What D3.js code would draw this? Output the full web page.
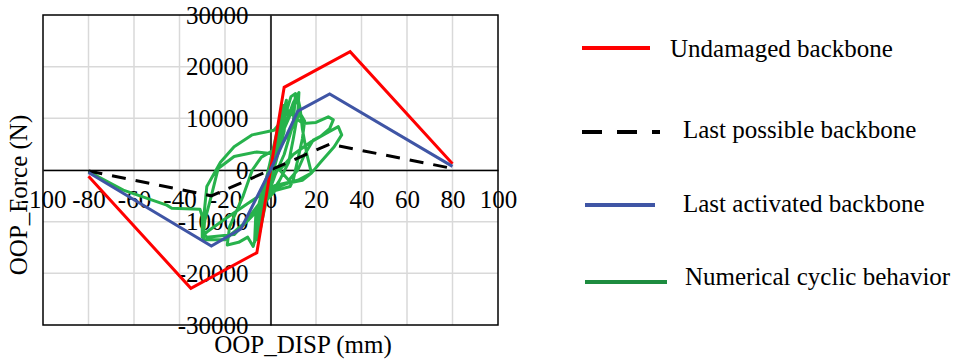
<!DOCTYPE html>
<html>
<head>
<meta charset="utf-8">
<script src="https://cdn.jsdelivr.net/npm/d3@7"></script>
<style>
    body { margin: 0; background: #fff; }
    text { font-family: "Liberation Serif", "Times New Roman", serif; fill: #000; }
</style>
</head>
<body>
<div id="chart"></div>
<script>
// tick values
var xTicks = [-100, -80, -60, -40, -20, 0, 20, 40, 60, 80, 100];
var yTicks = [-30000, -20000, -10000, 0, 10000, 20000, 30000];

// backbones [disp mm, force N]
var undamaged = [[-80, -1200], [-35, -22900], [-6, -16000], [0, 0], [6, 16000], [35, 22900], [80, 1200]];
var lastPossible = [[-80, -200], [-26, -5000], [0, 0], [26, 5000], [80, 300]];
var lastActivated = [[-80, -500], [-26, -14700], [-13, -11400], [0, 0], [12, 11400], [26, 14700], [80, 700]];

// numerical cyclic response
var cyclic = [
    [0, 0], [1.5, 3500], [0.5, 500], [-1.5, -3500], [-0.5, -500],
    [2.5, 6000], [1.5, 1500], [-2.5, -6000], [-1.5, -1500],
    [4, 9500], [3, 4000], [-4, -9500], [-3, -4000],
    [5.5, 12500], [4.5, 6000], [1, 0], [-5, -12500], [-4, -6500], [-1, 0],
    [7, 13500], [6, 7500], [2, 1000], [-6, -13500], [-5, -8000], [-1.5, -1000],
    [9, 14200], [11, 14800], [10, 9000], [6, 3000], [2, -1000], [-3, -7000], [-7, -14000], [-6.5, -9000], [-3, -3000], [2, 3000],
    [10, 13000], [12.5, 15000], [12, 11000], [10, 6000], [8, 1500], [4, -2000], [-2, -6000], [-7.6, -14800],
    [-10, -13000], [-14, -14000], [-19, -14500], [-18, -11000], [-12, -5000], [-8, 0], [-4, 2500], [2, 4000], [8, 10000], [12, 14000],
    [13, 12000], [14, 8000], [16, 3000], [18, -600], [14, -2000], [8, -2500], [2, -3500], [-4, -6000], [-12, -10500], [-20, -13500], [-29.5, -13500],
    [-29, -10000], [-26, -5000], [-23, 300], [-16, 2600], [-6, 3500], [0, 3200], [5, 5000], [10, 8500], [13, 11000],
    [15, 9500], [14, 6000], [12, 2000], [10, -1900], [8.6, -3200], [2, -4000], [-6, -8000], [-16, -12500], [-28, -13000], [-30, -12000],
    [-28, -3200], [-22, 1500], [-16, 4500], [-8, 6800], [1.5, 7700], [5, 9500], [8, 11500],
    [11, 10000], [14.4, 9000], [20, 9200], [25.4, 10300], [27.6, 9700], [26, 8000], [22, 6500], [18.8, 5800], [15, 3000], [12, 0], [8, -2000],
    [4, 0], [10, 3000], [18, 5500], [24, 7000], [29.8, 8400], [31.3, 6800], [28, 4500], [22, 1500], [18, -600], [12, -2000], [2, -3000],
    [-10, -6500], [-20, -9500], [-28, -12000], [-30, -13000], [-30, -9000],
    [-31, -7600], [-43.4, -7400], [-45.6, -6800], [-64.7, -3900], [-80, -300]
];

var legendNames = ["Undamaged backbone", "Last possible backbone", "Last activated backbone", "Numerical cyclic behavior"];

var W = 964, H = 362;
var fontSize = 25;

var svg = d3.select("#chart").append("svg")
    .attr("width", W)
    .attr("height", H);

svg.append("rect").attr("width", W).attr("height", H).attr("fill", "#fff");

var x = d3.scaleLinear().domain([-100, 100]).range([43, 498]);
var y = d3.scaleLinear().domain([-30000, 30000]).range([325, 15]);

//---------------------------- grid ----------------------------
svg.append("g")
    .selectAll("line")
    .data(xTicks.slice(1, -1)).enter()
    .append("line")
    .attr("x1", function (d) { return x(d); })
    .attr("x2", function (d) { return x(d); })
    .attr("y1", y(30000))
    .attr("y2", y(-30000))
    .attr("stroke", "#d9d9d9")
    .attr("stroke-width", 1.5);

svg.append("g")
    .selectAll("line")
    .data(yTicks.slice(1, -1)).enter()
    .append("line")
    .attr("x1", x(-100))
    .attr("x2", x(100))
    .attr("y1", function (d) { return y(d); })
    .attr("y2", function (d) { return y(d); })
    .attr("stroke", "#d9d9d9")
    .attr("stroke-width", 1.5);

// plot border
svg.append("rect")
    .attr("x", x(-100))
    .attr("y", y(30000))
    .attr("width", x(100) - x(-100))
    .attr("height", y(-30000) - y(30000))
    .attr("fill", "none")
    .attr("stroke", "#000")
    .attr("stroke-width", 1.5);

//---------------------------- axes through origin ----------------------------
var xAxis = svg.append("g")
    .attr("transform", "translate(0," + y(0) + ")")
    .call(d3.axisBottom(x).tickValues(xTicks).tickSize(0).tickPadding(20).tickFormat(d3.format("d")));
var yAxis = svg.append("g")
    .attr("transform", "translate(" + x(0) + ",0)")
    .call(d3.axisLeft(y).tickValues(yTicks).tickSize(0).tickPadding(22).tickFormat(d3.format("d")));

[xAxis, yAxis].forEach(function (a) {
    a.select(".domain").attr("stroke", "#000").attr("stroke-width", 1.5);
    a.selectAll("text")
        .style("font-family", "'Liberation Serif', 'Times New Roman', serif")
        .style("font-size", fontSize + "px")
        .attr("fill", "#000");
});
// plain hyphen like the source
xAxis.selectAll("text").text(function (d) { return String(d); });
yAxis.selectAll("text").text(function (d) { return String(d); });

//---------------------------- series ----------------------------
var line = d3.line()
    .x(function (d) { return x(d[0]); })
    .y(function (d) { return y(d[1]); });

svg.append("path").datum(cyclic)
    .attr("d", line)
    .attr("fill", "none")
    .attr("stroke", "#27b24c")
    .attr("stroke-width", 3)
    .attr("stroke-linejoin", "round");

svg.append("path").datum(undamaged)
    .attr("d", line)
    .attr("fill", "none")
    .attr("stroke", "#ff0000")
    .attr("stroke-width", 3);

svg.append("path").datum(lastPossible)
    .attr("d", line)
    .attr("fill", "none")
    .attr("stroke", "#000")
    .attr("stroke-width", 3)
    .attr("stroke-dasharray", "14,10");

svg.append("path").datum(lastActivated)
    .attr("d", line)
    .attr("fill", "none")
    .attr("stroke", "#3f55a5")
    .attr("stroke-width", 3);

//---------------------------- axis titles ----------------------------
svg.append("text")
    .attr("transform", "translate(27,195) rotate(-90)")
    .attr("text-anchor", "middle")
    .style("font-size", fontSize + "px")
    .text("OOP_Force (N)");

svg.append("text")
    .attr("x", 303)
    .attr("y", 353)
    .attr("text-anchor", "middle")
    .style("font-size", fontSize + "px")
    .text("OOP_DISP (mm)");

//---------------------------- legend ----------------------------
var legend = [
    { name: legendNames[0], color: "#ff0000", dash: null, x1: 582, x2: 650, ly: 48, tx: 670, ty: 57 },
    { name: legendNames[1], color: "#000", dash: "20,15", x1: 582, x2: 660, ly: 132, tx: 683, ty: 138 },
    { name: legendNames[2], color: "#3f55a5", dash: null, x1: 585, x2: 655, ly: 205, tx: 683, ty: 212 },
    { name: legendNames[3], color: "#1d8c3f", dash: null, x1: 585, x2: 667, ly: 282, tx: 685, ty: 285 }
];

var lg = svg.append("g").selectAll("g").data(legend).enter().append("g");
lg.append("line")
    .attr("x1", function (d) { return d.x1; })
    .attr("x2", function (d) { return d.x2; })
    .attr("y1", function (d) { return d.ly; })
    .attr("y2", function (d) { return d.ly; })
    .attr("stroke", function (d) { return d.color; })
    .attr("stroke-width", 4)
    .attr("stroke-dasharray", function (d) { return d.dash; });
lg.append("text")
    .attr("x", function (d) { return d.tx; })
    .attr("y", function (d) { return d.ty; })
    .style("font-size", fontSize + "px")
    .text(function (d) { return d.name; });
</script>
</body>
</html>
